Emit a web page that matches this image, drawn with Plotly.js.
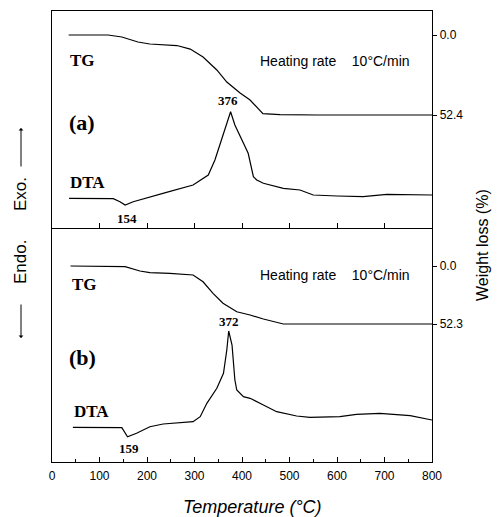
<!DOCTYPE html>
<html>
<head>
<meta charset="utf-8">
<script src="https://cdn.plot.ly/plotly-3.0.1.min.js"></script>
<style>html,body{margin:0;padding:0;background:#fff;}#chart{width:499px;height:517px;}</style>
</head>
<body>
<div id="chart"></div>
<script>
// ---------- data ----------
// (a) TG : temperature (°C) and weight loss (%)
const tgTempA = [35, 80, 118, 147, 181, 206, 263, 291, 318, 347, 368, 396, 417, 444, 480, 560, 640, 720, 800];
const tgLossA = [0, 0, 0, 1.3, 4.6, 5.9, 6.9, 9.2, 14.4, 22.9, 30.8, 38.0, 42.6, 51.5, 52.2, 52.4, 52.4, 52.4, 52.4];
// (a) DTA : temperature (°C) and signal (arbitrary units)
const dtaTempA = [36, 129, 143, 154, 171, 206, 241, 297, 329, 343, 361, 376, 385, 403, 413, 424, 431, 445, 487, 522, 550, 600, 655, 705, 760, 800];
const dtaSigA  = [29.7, 29.3, 26.3, 23.0, 26.3, 31.3, 35.7, 43.0, 53.0, 68.0, 94.7, 116.3, 103.0, 85.5, 74.7, 51.3, 48.0, 44.7, 39.7, 38.0, 33.0, 32.0, 31.3, 33.7, 33.0, 33.0];
// (b) TG
const tgTempB = [39, 100, 154, 185, 206, 248, 297, 318, 339, 360, 389, 417, 445, 487, 560, 640, 720, 800];
const tgLossB = [0, 0, 0.6, 4.5, 6.0, 6.6, 8.1, 14.2, 24.6, 33.6, 41.2, 44.2, 47.8, 52.3, 52.3, 52.3, 52.3, 52.3];
// (b) DTA
const dtaTempB = [44, 147, 159, 178, 206, 234, 297, 312, 326, 347, 361, 368, 372, 379, 385, 389, 403, 417, 445, 473, 515, 543, 606, 641, 690, 754, 800];
const dtaSigB  = [34.7, 34.3, 25.3, 28.7, 35.3, 38.0, 40.3, 45.3, 58.7, 73.7, 88.7, 112.0, 131.0, 117.0, 82.0, 72.0, 65.3, 63.7, 57.0, 50.3, 46.0, 44.7, 45.3, 47.7, 48.7, 46.3, 42.0];
// tick labels
const xTickVals = [0, 100, 200, 300, 400, 500, 600, 700, 800];
const wlTicksA = [0, 52.4];
const wlTicksB = [0, 52.3];
const rateText = "Heating rate\u00a0\u00a0\u00a0\u00a010\u00b0C/min";

// ---------- layout helpers ----------
const W = 499, H = 517;
const M = {l: 52, r: 67, t: 11, b: 55};
const PW = W - M.l - M.r, PH = H - M.t - M.b;
const px = p => (p - M.l) / PW;          // pixel x -> paper
const py = p => (H - M.b - p) / PH;      // pixel y -> paper
const split = py(228);

const sans = "Liberation Sans, Arial, sans-serif";
const serif = "Liberation Serif, Times New Roman, serif";
const LC = "#000";
const lineStyle = {color: LC, width: 1.2};

function idxMax(a){let k=0;a.forEach((v,i)=>{if(v>a[k])k=i;});return k;}
function idxMin(a){let k=0;a.forEach((v,i)=>{if(v<a[k])k=i;});return k;}

const traces = [
  {x: tgTempA, y: tgLossA, xaxis: 'x2', yaxis: 'y4', mode: 'lines', line: lineStyle, hoverinfo: 'skip'},
  {x: dtaTempA, y: dtaSigA, xaxis: 'x2', yaxis: 'y3', mode: 'lines', line: lineStyle, hoverinfo: 'skip'},
  {x: tgTempB, y: tgLossB, xaxis: 'x', yaxis: 'y2', mode: 'lines', line: lineStyle, hoverinfo: 'skip'},
  {x: dtaTempB, y: dtaSigB, xaxis: 'x', yaxis: 'y', mode: 'lines', line: lineStyle, hoverinfo: 'skip'}
];

const pkA = idxMax(dtaSigA), mnA = idxMin(dtaSigA), pkB = idxMax(dtaSigB), mnB = idxMin(dtaSigB);
const numFont = {family: serif, size: 13, color: LC};
const lblFont = {family: serif, size: 17, color: LC};
const parFont = {family: serif, size: 22, color: LC};
const rateFont = {family: sans, size: 14, color: LC};

const ann = [
  // value labels at peaks/minima
  {xref: 'x2', yref: 'y3', x: dtaTempA[pkA], y: dtaSigA[pkA], text: '<b>' + dtaTempA[pkA] + '</b>', showarrow: false, yshift: 11, xshift: -3, font: numFont},
  {xref: 'x2', yref: 'y3', x: dtaTempA[mnA], y: dtaSigA[mnA], text: '<b>' + dtaTempA[mnA] + '</b>', showarrow: false, yshift: -13, xshift: 2, font: numFont},
  {xref: 'x', yref: 'y', x: dtaTempB[pkB], y: dtaSigB[pkB], text: '<b>' + dtaTempB[pkB] + '</b>', showarrow: false, yshift: 10, xshift: 0, font: numFont},
  {xref: 'x', yref: 'y', x: dtaTempB[mnB], y: dtaSigB[mnB], text: '<b>' + dtaTempB[mnB] + '</b>', showarrow: false, yshift: -12, xshift: 1, font: numFont},
  // curve labels
  {xref: 'paper', yref: 'paper', x: px(68), y: py(61), xanchor: 'left', yanchor: 'middle', text: '<b>TG</b>', showarrow: false, font: lblFont},
  {xref: 'paper', yref: 'paper', x: px(67), y: py(123), xanchor: 'left', yanchor: 'middle', text: '<b>(a)</b>', showarrow: false, font: parFont},
  {xref: 'paper', yref: 'paper', x: px(68), y: py(182), xanchor: 'left', yanchor: 'middle', text: '<b>DTA</b>', showarrow: false, font: lblFont},
  {xref: 'paper', yref: 'paper', x: px(335), y: py(61), xanchor: 'center', yanchor: 'middle', text: rateText, showarrow: false, font: rateFont},
  {xref: 'paper', yref: 'paper', x: px(70), y: py(284), xanchor: 'left', yanchor: 'middle', text: '<b>TG</b>', showarrow: false, font: lblFont},
  {xref: 'paper', yref: 'paper', x: px(67), y: py(357), xanchor: 'left', yanchor: 'middle', text: '<b>(b)</b>', showarrow: false, font: parFont},
  {xref: 'paper', yref: 'paper', x: px(72), y: py(411), xanchor: 'left', yanchor: 'middle', text: '<b>DTA</b>', showarrow: false, font: lblFont},
  {xref: 'paper', yref: 'paper', x: px(335), y: py(275), xanchor: 'center', yanchor: 'middle', text: rateText, showarrow: false, font: rateFont},
  // axis titles
  {xref: 'paper', yref: 'paper', x: px(252), y: py(507), xanchor: 'center', yanchor: 'middle', text: '<i>Temperature (\u00b0C)</i>', showarrow: false, font: {family: sans, size: 18, color: LC}},
  {xref: 'paper', yref: 'paper', x: px(483), y: py(245), xanchor: 'center', yanchor: 'middle', textangle: -90, text: 'Weight loss (%)', showarrow: false, font: {family: sans, size: 16, color: LC}},
  {xref: 'paper', yref: 'paper', x: px(20), y: py(194), xanchor: 'center', yanchor: 'middle', textangle: -90, text: 'Exo.', showarrow: false, font: {family: sans, size: 17, color: LC}},
  {xref: 'paper', yref: 'paper', x: px(20), y: py(262), xanchor: 'center', yanchor: 'middle', textangle: -90, text: 'Endo.', showarrow: false, font: {family: sans, size: 17, color: LC}},
  // arrows
  {xref: 'paper', yref: 'paper', x: px(21), y: py(128), axref: 'pixel', ayref: 'pixel', ax: 0, ay: 40, text: '', showarrow: true, arrowhead: 1, arrowsize: 0.8, arrowwidth: 1, arrowcolor: LC},
  {xref: 'paper', yref: 'paper', x: px(21), y: py(338), axref: 'pixel', ayref: 'pixel', ax: 0, ay: -35, text: '', showarrow: true, arrowhead: 1, arrowsize: 0.8, arrowwidth: 1, arrowcolor: LC}
];

const baseX = {range: [0, 800], showgrid: false, zeroline: false, showline: true, linecolor: LC, linewidth: 1.3,
  ticks: 'inside', ticklen: 5, tickwidth: 1, tickcolor: LC, tickvals: xTickVals, fixedrange: true};
const baseY = {showgrid: false, zeroline: false, showline: true, linecolor: LC, linewidth: 1.3, fixedrange: true};

const layout = {
  width: W, height: H, margin: M, showlegend: false,
  paper_bgcolor: '#fff', plot_bgcolor: '#fff',
  font: {family: sans, size: 12, color: LC},
  xaxis: Object.assign({}, baseX, {domain: [0, 1], anchor: 'y', ticktext: xTickVals.map(String),
    tickfont: {family: sans, size: 12, color: LC}, ticklabelstandoff: 2,
    minor: {dtick: 50, tick0: 0, ticks: 'inside', ticklen: 3, tickcolor: LC}}),
  xaxis2: Object.assign({}, baseX, {domain: [0, 1], anchor: 'y3', matches: 'x', showticklabels: false, mirror: true}),
  yaxis: Object.assign({}, baseY, {domain: [0, split], anchor: 'x', range: [0, 234], showticklabels: false, ticks: ''}),
  yaxis2: Object.assign({}, baseY, {overlaying: 'y', side: 'right', anchor: 'x', range: [176.7, -34.27],
    tickvals: wlTicksB, ticktext: wlTicksB.map(v => v.toFixed(1)), ticks: 'outside', ticklen: 4, tickcolor: LC,
    tickfont: {family: sans, size: 12, color: LC}}),
  yaxis3: Object.assign({}, baseY, {domain: [split, 1], anchor: 'x2', range: [0, 217], showticklabels: false, ticks: ''}),
  yaxis4: Object.assign({}, baseY, {overlaying: 'y3', side: 'right', anchor: 'x2', range: [126.4, -15.72],
    tickvals: wlTicksA, ticktext: wlTicksA.map(v => v.toFixed(1)), ticks: 'outside', ticklen: 4, tickcolor: LC,
    tickfont: {family: sans, size: 12, color: LC}}),
  annotations: ann
};

Plotly.newPlot('chart', traces, layout, {displayModeBar: false, staticPlot: true});
</script>
</body>
</html>
